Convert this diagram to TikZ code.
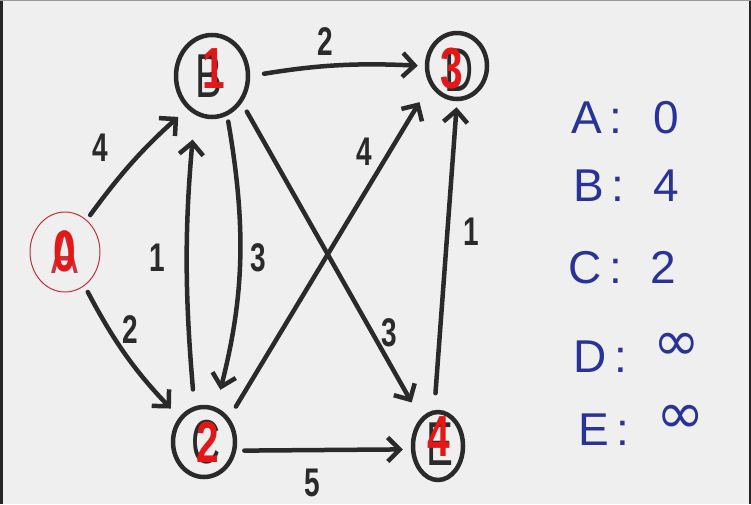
\documentclass[tikz,border=0pt]{standalone}
\usepackage{fontspec}
\setmainfont{Liberation Sans}
\newfontfamily\handfont[FakeStretch=0.65]{Liberation Sans}
\newfontfamily\markerfont[FakeStretch=0.7]{Liberation Sans}
\newfontfamily\symfont{DejaVu Sans}
\usepackage{xcolor}
\usepackage{tikz}
\usetikzlibrary{shapes.geometric, arrows.meta, positioning}

\definecolor{paper}{HTML}{EFEFEF}
\definecolor{ink}{HTML}{2A2A2A}
\definecolor{marker}{HTML}{E51616}
\definecolor{thinred}{HTML}{C8323C}
\definecolor{biro}{HTML}{27339B}

\begin{document}
\begin{tikzpicture}[
    x=1pt, y=1pt,
    >={Straight Barb[length=12pt, width=24pt]},
    vertex/.style={ellipse, draw=ink, line width=4.5pt, inner sep=0pt},
    source/.style={ellipse, draw=thinred, line width=1pt, inner sep=0pt},
    letter/.style={font=\handfont\fontsize{62}{62}\selectfont, text=ink},
    dist/.style={font=\markerfont\bfseries\fontsize{58}{58}\selectfont, text=marker},
    arrow/.style={->, line width=4.5pt, draw=ink, line cap=round},
    weight/.style={font=\markerfont\bfseries\fontsize{40}{40}\selectfont, text=ink},
    tally/.style={anchor=base west, font=\fontsize{46}{46}\selectfont, text=biro}
]

% PAPER
\useasboundingbox (0,0) rectangle (751,-504);
\fill[paper] (0,0) rectangle (751,-504);
\draw[black!85, line width=6pt] (0,0) -- (0,-504);
\draw[black!85, line width=5pt] (751,0) -- (751,-504);
\draw[black!40, line width=2pt] (0,0) -- (751,0);

% VERTICES
\node[source, minimum width=70, minimum height=80,
      label={[letter, text=thinred]center:A},
      label={[dist]center:0}] (A) at (65,-252) {};
\node[vertex, minimum width=72, minimum height=82,
      label={[letter, xshift=-3]center:B},
      label={[dist, xshift=2, yshift=7]center:1}] (B) at (212,-76) {};
\node[vertex, minimum width=60, minimum height=66,
      label={[letter, xshift=2, yshift=-4]center:D},
      label={[dist, xshift=-5, yshift=-3]center:3}] (D) at (457,-66) {};
\node[vertex, minimum width=62, minimum height=70,
      label={[letter, xshift=2]center:C},
      label={[dist, xshift=4]center:2}] (C) at (204,-442) {};
\node[vertex, minimum width=50, minimum height=68,
      label={[letter, xshift=2, yshift=2]center:E},
      label={[dist, xshift=1, yshift=9]center:4}] (E) at (438,-446) {};

% EDGES
\draw[arrow, shorten <=6pt, shorten >=12pt] (A.56) to[bend left=6] (B.233);
\draw[arrow, shorten <=7pt, shorten >=12pt] (A.300) to[bend right=8] (C.135);
\draw[arrow, shorten <=14pt, shorten >=7pt] (B.east) to[bend left=6] (D.west);
\draw[arrow, shorten <=6pt, shorten >=18pt] (B.291) to[bend left=12] (C.71);
\draw[arrow, shorten <=17pt, shorten >=25pt] (C.105) to[bend left=5] (B.246);
\draw[arrow, shorten <=13pt, shorten >=20pt] (C.44) -- (D.215);
\draw[arrow, shorten <=10pt, shorten >=18pt] (B.318) -- (E.122);
\draw[arrow, shorten <=8pt, shorten >=8pt] (C.-15) -- (E.187);
\draw[arrow, shorten <=17pt, shorten >=6pt] (E.96) -- (D.270);

% WEIGHTS
\node[weight] (wAB) at (100,-148) {4};
\node[weight] (wAC) at (130,-330) {2};
\node[weight] (wBD) at (325,-42) {2};
\node[weight] (wBC) at (258,-258) {3};
\node[weight] (wCB) at (157,-258) {1};
\node[weight] (wCD) at (364,-152) {4};
\node[weight] (wBE) at (389,-333) {3};
\node[weight] (wCE) at (312,-483) {5};
\node[weight] (wED) at (471,-232) {1};

% DISTANCES
\node[tally] (rowA) at (568,-133) {\makebox[82pt][l]{A\,:}0};
\node[tally] (rowB) at (570,-201) {\makebox[80pt][l]{B\,:}4};
\node[tally] (rowC) at (565,-283) {\makebox[82pt][l]{C\,:}2};
\node[tally] (rowD) at (570,-372) {\makebox[80pt][l]{D\,:}\raisebox{12pt}{\symfont\fontsize{56}{56}\selectfont ∞}};
\node[tally] (rowE) at (575,-445) {\makebox[78pt][l]{E\,:}\raisebox{12pt}{\symfont\fontsize{58}{58}\selectfont ∞}};

\end{tikzpicture}
\end{document}
